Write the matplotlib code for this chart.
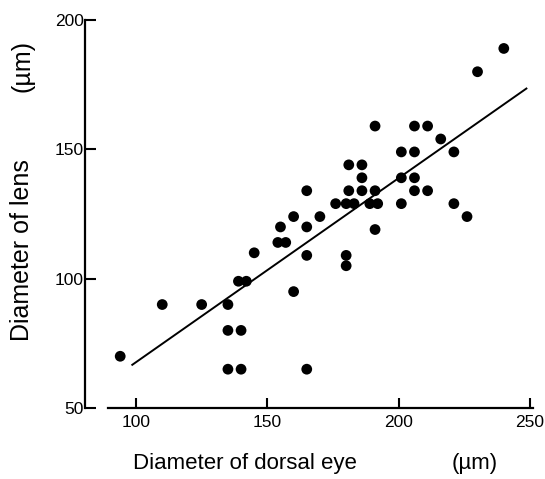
import numpy as np
import matplotlib
matplotlib.use('Agg')
import matplotlib.pyplot as plt

# diameter of dorsal eye (um) vs diameter of lens (um)
eye = [240, 230, 191, 206, 211, 216, 201, 206, 221, 181, 186, 186, 201, 206,
       165, 181, 186, 191, 206, 211, 176, 180, 183, 189, 192, 201, 221, 226,
       160, 170, 155, 165, 191, 154, 157, 145, 165, 180, 180, 139, 142, 160,
       110, 125, 135, 135, 140, 94, 135, 140, 165]
lens = [189, 180, 159, 159, 159, 154, 149, 149, 149, 144, 144, 139, 139, 139,
        134, 134, 134, 134, 134, 134, 129, 129, 129, 129, 129, 129, 129, 124,
        124, 124, 120, 120, 119, 114, 114, 110, 109, 109, 105, 99, 99, 95,
        90, 90, 90, 80, 80, 70, 65, 65, 65]

# regression line drawn in the figure
slope = 0.712
intercept = -3.5
fit_x = [98.6, 248.6]

plt.rcParams['font.family'] = ['Liberation Sans', 'DejaVu Sans']

fig = plt.figure(figsize=(5.45, 4.79), dpi=100)
ax = fig.add_axes([85 / 545, 1 - 408 / 479, (532.7 - 85) / 545, (408 - 20) / 479])

ax.scatter(eye, lens, s=60, color='black', edgecolors='none', zorder=3, clip_on=False)
fx = np.array(fit_x)
ax.plot(fx, slope * fx + intercept, color='black', lw=1.4)

ax.set_xlim(80.6, 251)
ax.set_ylim(50, 200)
ax.set_xticks([100, 150, 200, 250])
ax.set_yticks([50, 100, 150, 200])

for s in ['top', 'right']:
    ax.spines[s].set_visible(False)
ax.spines['left'].set_linewidth(1.6)
ax.spines['bottom'].set_linewidth(1.6)
ax.spines['bottom'].set_bounds(89.3, 251)

ax.tick_params(axis='y', direction='in', length=8, width=1.5, pad=1, labelsize=12.5)
ax.tick_params(axis='x', direction='in', length=7, width=1.5, pad=5, labelsize=12.5)

# axis titles placed in figure pixels, unit set apart as in the original
fig.text(22 / 545, 1 - 250 / 479, 'Diameter of lens', fontsize=18,
         rotation=90, ha='center', va='center')
fig.text(22 / 545, 1 - 66 / 479, '(µm)', fontsize=18,
         rotation=90, ha='center', va='center')
fig.text(245 / 545, 1 - 463 / 479, 'Diameter of dorsal eye', fontsize=16,
         ha='center', va='center')
fig.text(475 / 545, 1 - 463 / 479, '(µm)', fontsize=16,
         ha='center', va='center')

plt.savefig('out.png', dpi=100)
